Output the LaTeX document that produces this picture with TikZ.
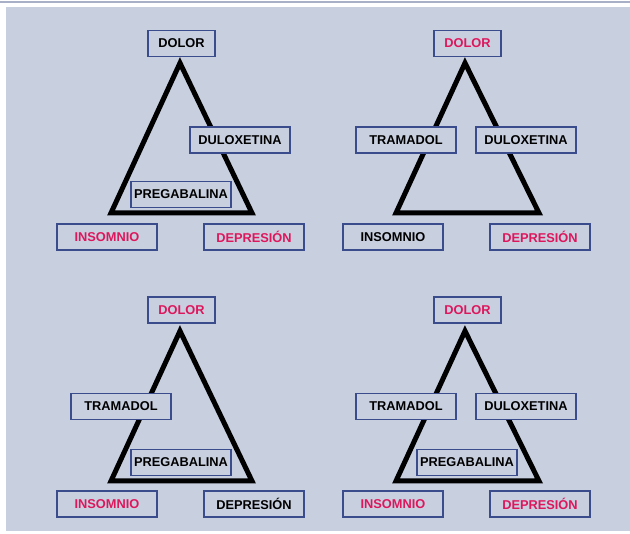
\documentclass[tikz,border=0pt]{standalone}
\usepackage{fontspec}
\setmainfont{Liberation Sans}
\definecolor{bg}{RGB}{200,208,224}
\definecolor{topline}{RGB}{168,176,200}
\definecolor{boxline}{RGB}{58,76,140}
\definecolor{pinktxt}{RGB}{222,22,92}
\tikzset{
  lbl/.style={draw=boxline, line width=1.5pt, fill=bg, minimum width=100pt, minimum height=26pt,
    inner sep=0pt, font=\fontsize{12.8}{14}\selectfont\bfseries, text=black},
  smalllbl/.style={lbl, minimum width=67pt},
  red/.style={text=pinktxt},
  tri/.style={line width=5pt, line join=miter, black}
}
\begin{document}
\begin{tikzpicture}[x=1pt,y=-1pt]
\useasboundingbox (0,0) rectangle (630,534);
\fill[white] (0,0) rectangle (630,534);
\fill[topline] (0,1) rectangle (630,3);
\fill[bg] (6,7) rectangle (630,531);
% Panel 1
\coordinate (a1) at (180,63);
\coordinate (b1) at (111,213);
\coordinate (c1) at (252,213);
\draw[tri] (a1) -- (b1) -- (c1) -- cycle;
\node[smalllbl] (dolor1) at (181.5,43.5) {DOLOR};
\node[lbl] (dulo1) at (240,140) {DULOXETINA};
\node[lbl] (preg1) at (181,194.5) {PREGABALINA};
\node[lbl,red] (ins1) at (107,237) {INSOMNIO};
\node[lbl,red] (dep1) at (254,237) {DEPRESIÓN};
% Panel 2
\coordinate (a2) at (465,63);
\coordinate (b2) at (396,213);
\coordinate (c2) at (539,213);
\draw[tri] (a2) -- (b2) -- (c2) -- cycle;
\node[smalllbl,red] (dolor2) at (467.5,43.5) {DOLOR};
\node[lbl] (tram2) at (406,140) {TRAMADOL};
\node[lbl] (dulo2) at (526,140) {DULOXETINA};
\node[lbl] (ins2) at (393,237) {INSOMNIO};
\node[lbl,red] (dep2) at (540,237) {DEPRESIÓN};
% Panel 3
\coordinate (a3) at (180,331);
\coordinate (b3) at (111,481);
\coordinate (c3) at (252,481);
\draw[tri] (a3) -- (b3) -- (c3) -- cycle;
\node[smalllbl,red] (dolor3) at (181.5,310) {DOLOR};
\node[lbl] (tram3) at (121,406.5) {TRAMADOL};
\node[lbl] (preg3) at (181,462.5) {PREGABALINA};
\node[lbl,red] (ins3) at (107,504) {INSOMNIO};
\node[lbl] (dep3) at (254,504) {DEPRESIÓN};
% Panel 4
\coordinate (a4) at (465,331);
\coordinate (b4) at (396,481);
\coordinate (c4) at (539,481);
\draw[tri] (a4) -- (b4) -- (c4) -- cycle;
\node[smalllbl,red] (dolor4) at (467.5,310) {DOLOR};
\node[lbl] (tram4) at (406,406.5) {TRAMADOL};
\node[lbl] (dulo4) at (526,406.5) {DULOXETINA};
\node[lbl] (preg4) at (467,462.5) {PREGABALINA};
\node[lbl,red] (ins4) at (393,504) {INSOMNIO};
\node[lbl,red] (dep4) at (540,504) {DEPRESIÓN};
\end{tikzpicture}
\end{document}
